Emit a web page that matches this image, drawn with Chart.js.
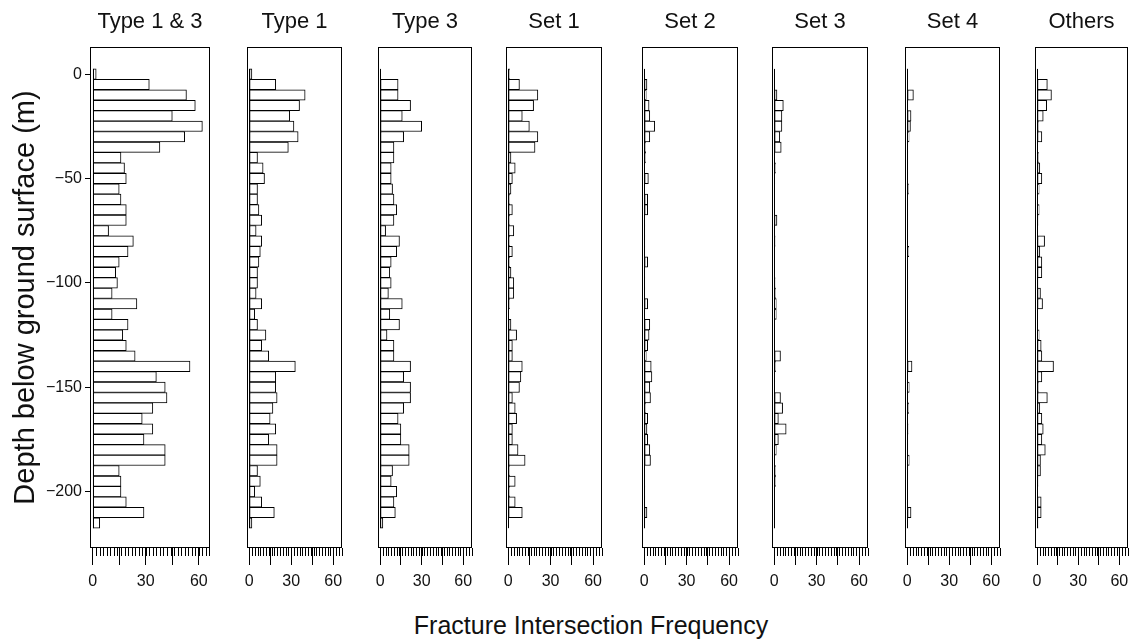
<!DOCTYPE html>
<html>
<head>
<meta charset="utf-8">
<title>Fracture intersection frequency by depth</title>
<script src="https://cdn.jsdelivr.net/npm/chart.js@4.4.1/dist/chart.umd.min.js"></script>
<style>
  body {
    margin: 0;
    width: 1136px;
    height: 642px;
    overflow: hidden;
    position: relative;
    background: #fff;
    font-family: "Liberation Sans", Arial, sans-serif;
  }
  .panel { position: absolute; top: 0; }
  #xTitle {
    position: absolute;
    left: 0;
    width: 1182px;
    top: 610px;
    line-height: 30px;
    text-align: center;
    font-size: 25px;
    color: #111;
  }
</style>
</head>
<body>
<div id="panels"></div>
<div id="xTitle">Fracture Intersection Frequency</div>
<script>
// depth of each 5 m interval (m)
const depths = [0, -5, -10, -15, -20, -25, -30, -35, -40, -45, -50, -55, -60, -65, -70, -75,
  -80, -85, -90, -95, -100, -105, -110, -115, -120, -125, -130, -135, -140, -145, -150, -155,
  -160, -165, -170, -175, -180, -185, -190, -195, -200, -205, -210, -215];

const type13 = [2, 32, 53, 58, 45, 62, 52, 38, 16, 18, 19, 15, 16, 19, 19, 9,
  23, 20, 15, 13, 14, 11, 25, 11, 20, 17, 19, 24, 55, 36, 41, 42,
  34, 28, 34, 29, 41, 41, 15, 16, 16, 19, 29, 4];
const type1 = [2, 19, 40, 36, 29, 32, 35, 28, 6, 10, 11, 6, 6, 7, 9, 5,
  9, 8, 7, 6, 6, 5, 9, 4, 6, 12, 9, 14, 33, 19, 19, 20,
  17, 15, 19, 14, 20, 20, 6, 8, 4, 9, 18, 2];
const type3 = [0, 13, 13, 22, 16, 30, 17, 10, 10, 8, 8, 9, 10, 12, 10, 4,
  14, 12, 8, 7, 8, 6, 16, 7, 14, 5, 10, 10, 22, 17, 22, 22,
  17, 13, 15, 15, 21, 21, 9, 8, 12, 10, 11, 2];
const set1 = [1, 8, 21, 18, 10, 15, 21, 19, 2, 5, 3, 2, 1, 3, 1, 4,
  1, 3, 1, 2, 4, 4, 1, 0, 2, 6, 3, 3, 10, 9, 8, 3,
  5, 6, 3, 3, 7, 12, 1, 5, 1, 5, 10, 0];
const set2 = [0, 2, 1.5, 3.5, 4, 7.5, 4, 1, 1, 0.5, 3, 0.5, 2.5, 2.5, 0.5, 0.5,
  0.5, 0.5, 2.5, 0.5, 0.5, 0.5, 2.5, 0.5, 4, 3.5, 2.5, 1.5, 5, 5.5, 4, 4.5,
  1, 2.5, 2, 2.5, 4, 4.5, 0.5, 0.5, 0.5, 0.5, 2, 0.5];
const set3 = [0, 0.3, 2, 6.5, 5.5, 5.5, 4, 5, 0.5, 1, 0.5, 0.3, 0.3, 0.3, 2, 0.3,
  0.7, 0.3, 0.3, 0.3, 0.7, 1, 1.5, 1.5, 0.3, 0.3, 0.3, 4.5, 1, 0.5, 0.3, 4.5,
  6, 3, 8.5, 3, 1.5, 0.3, 1, 1, 0.3, 0.3, 0.3, 0.3];
const set4 = [0.3, 0.3, 4.5, 0.5, 2.8, 2.4, 1.4, 0.5, 0.5, 0.5, 0.5, 1, 0.5, 0.5, 0.5, 0.5,
  0.5, 1.2, 0.5, 0.5, 0.5, 0.5, 0.3, 0.3, 0.5, 0.5, 0.5, 0.5, 3.5, 0.5, 1.5, 0.5,
  1.2, 0.5, 0.7, 0.5, 0.5, 1.5, 0.5, 0.3, 0.3, 0.3, 2.8, 0.3];
const others = [0, 7.5, 10.5, 7, 4.5, 1, 3.5, 0.5, 1, 2, 3.5, 1.5, 0.5, 1.5, 0.7, 0.5,
  5.5, 2, 3.5, 3.5, 0.7, 2.5, 4, 0.5, 0.5, 1.5, 3, 3.5, 12, 3.5, 1, 7.5,
  2, 3.5, 4.5, 3.5, 6, 2.5, 2.5, 0.7, 0.5, 3, 3, 0.7];

const panelTitles = ["Type 1 & 3", "Type 1", "Type 3", "Set 1", "Set 2", "Set 3", "Set 4", "Others"];
const panelSeries = [type13, type1, type3, set1, set2, set3, set4, others];
const xTickLabels = [0, 30, 60];
const xTickMarks = [0, 15, 30, 45, 60];
const yTickLabels = [0, -50, -100, -150, -200];

// where each panel box sits on the page
const boxLeft = [90, 247, 378, 506, 642, 772, 905, 1035];
const boxRight = [210, 342, 472, 602, 738, 868, 1000, 1132];
const BOX_TOP = 47;
const BOX_BOTTOM = 548;
const CANVAS_H = 600;
const INK = "#000";
const FONT = "'Liberation Sans', Arial, sans-serif";

// zero line along the left edge of the bars
const baseLine = {
  id: "baseLine",
  afterDatasetsDraw(chart) {
    const { ctx, scales } = chart;
    const half = (depths[0] - depths[1]) / 2;
    const px = Math.round(scales.x.getPixelForValue(0)) + 0.5;
    ctx.save();
    ctx.strokeStyle = INK;
    ctx.lineWidth = 1;
    ctx.beginPath();
    ctx.moveTo(px, scales.y.getPixelForValue(depths[0] + half));
    ctx.lineTo(px, scales.y.getPixelForValue(depths[depths.length - 1] - half));
    ctx.stroke();
    ctx.restore();
  }
};

// panel frame plus the small ticks under the x axis
const frameAndMinorTicks = {
  id: "frameAndMinorTicks",
  afterDraw(chart) {
    const { ctx, chartArea: a, scales } = chart;
    ctx.save();
    ctx.strokeStyle = INK;
    ctx.lineWidth = 1;
    ctx.strokeRect(a.left + 0.5, a.top + 0.5, a.right - a.left - 1, a.bottom - a.top - 1);
    ctx.beginPath();
    for (let v = 2; v <= 66; v += 2) {
      const px = Math.round(scales.x.getPixelForValue(v)) + 0.5;
      ctx.moveTo(px, a.bottom);
      ctx.lineTo(px, a.bottom + 8);
    }
    ctx.stroke();
    ctx.restore();
  }
};

function makePanel(i) {
  const first = i === 0;
  const padL = first ? 0 : 14;
  const padR = i === 7 ? 4 : 14;
  const left = first ? 0 : boxLeft[i] - padL;
  const width = boxRight[i] + padR - left;

  const wrap = document.createElement("div");
  wrap.className = "panel";
  wrap.style.left = left + "px";
  const canvas = document.createElement("canvas");
  canvas.width = width;
  canvas.height = CANVAS_H;
  wrap.appendChild(canvas);
  document.getElementById("panels").appendChild(wrap);

  const series = panelSeries[i];
  const points = depths.map((d, k) => ({ x: series[k], y: d }));

  new Chart(canvas.getContext("2d"), {
    type: "bar",
    data: {
      datasets: [{
        data: points,
        backgroundColor: "#fff",
        borderColor: INK,
        borderWidth: 1,
        borderSkipped: false,
        barPercentage: 1,
        categoryPercentage: 1
      }]
    },
    options: {
      indexAxis: "y",
      responsive: false,
      animation: false,
      devicePixelRatio: 1,
      events: [],
      layout: { padding: { left: padL, right: padR, top: 0, bottom: 0 } },
      plugins: {
        legend: { display: false },
        tooltip: { enabled: false },
        title: {
          display: true,
          text: panelTitles[i],
          fullSize: false,
          color: "#111",
          font: { family: FONT, size: 22, weight: "normal", lineHeight: 1.2 },
          padding: { top: 9, bottom: BOX_TOP - 9 - 22 * 1.2 }
        }
      },
      scales: {
        x: {
          type: "linear",
          min: -1.5,
          max: 66.3,
          afterBuildTicks: s => { s.ticks = xTickMarks.map(v => ({ value: v })); },
          afterFit: s => { s.height = CANVAS_H - BOX_BOTTOM; },
          grid: { drawOnChartArea: false, tickLength: 17, tickColor: INK, color: INK },
          border: { display: false },
          ticks: {
            color: "#111",
            padding: 7,
            maxRotation: 0,
            autoSkip: false,
            font: { family: FONT, size: 16 },
            callback: v => xTickLabels.includes(v) ? String(v) : ""
          }
        },
        y: {
          type: "linear",
          min: -227,
          max: 13,
          offset: false,
          display: first,
          afterBuildTicks: s => { s.ticks = yTickLabels.map(v => ({ value: v })); },
          afterFit: s => { s.width = first ? boxLeft[0] : 0; },
          grid: { drawOnChartArea: false, tickLength: 5, tickColor: INK, offset: false },
          border: { display: false },
          ticks: {
            color: "#111",
            padding: 3,
            font: { family: FONT, size: 16 },
            callback: v => v < 0 ? "\u2212" + Math.abs(v) : String(v)
          },
          title: {
            display: true,
            text: "Depth below ground surface (m)",
            color: "#111",
            font: { family: FONT, size: 29, lineHeight: 1.2 },
            padding: { top: 9, bottom: 0 }
          }
        }
      }
    },
    plugins: [baseLine, frameAndMinorTicks]
  });
}

panelTitles.forEach((t, i) => makePanel(i));
</script>
</body>
</html>
